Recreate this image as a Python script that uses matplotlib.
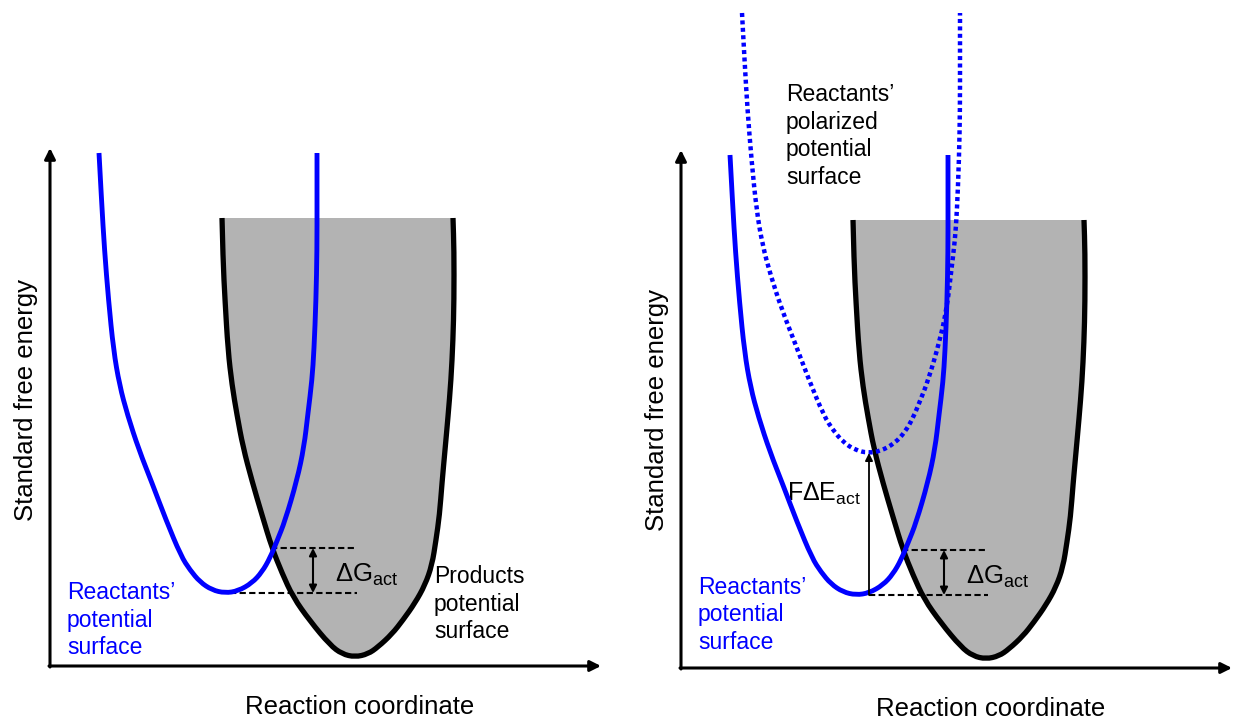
import matplotlib.pyplot as plt
from matplotlib.path import Path
from matplotlib.patches import PathPatch

plt.rcParams['font.family'] = ['Liberation Sans', 'DejaVu Sans']
plt.rcParams['mathtext.fontset'] = 'custom'
plt.rcParams['mathtext.rm'] = 'Liberation Sans'
plt.rcParams['mathtext.default'] = 'regular'

# reactants' potential surface: reaction coordinate / free energy
react_x = [0.49, 0.515, 0.545, 0.585, 0.635, 0.695, 0.775, 0.89, 1.02, 1.16, 1.31, 1.40,
           1.50, 1.62, 1.75, 1.88, 2.02, 2.12, 2.20, 2.27, 2.35, 2.47, 2.54, 2.58, 2.62,
           2.64, 2.66, 2.67, 2.67, 2.67]
react_g = [5.13, 4.66, 4.16, 3.66, 3.16, 2.81, 2.51, 2.16, 1.83, 1.46, 1.10, 0.96,
           0.84, 0.76, 0.73, 0.75, 0.83, 0.94, 1.08, 1.25, 1.45, 1.86, 2.19, 2.53, 2.86,
           3.16, 3.66, 4.16, 4.66, 5.13]

# products' potential surface
prod_x = [1.72, 1.73, 1.75, 1.78, 1.82, 1.87, 1.93, 2.02, 2.12, 2.22, 2.32, 2.43, 2.60,
          2.80, 2.92, 3.05, 3.18, 3.28, 3.42, 3.53, 3.65, 3.75, 3.82, 3.86, 3.895, 3.92,
          3.95, 3.98, 4.01, 4.03, 4.04, 4.04, 4.03]
prod_g = [4.48, 4.06, 3.66, 3.16, 2.81, 2.51, 2.19, 1.85, 1.51, 1.18, 0.93, 0.69, 0.45,
          0.21, 0.12, 0.09, 0.12, 0.19, 0.32, 0.46, 0.63, 0.81, 1.01, 1.26, 1.51, 1.83,
          2.16, 2.49, 2.86, 3.26, 3.66, 4.16, 4.48]

g_react_min = 0.73      # bottom of the reactants' well
g_cross = 1.18          # crossing of the two surfaces
x_cross = 2.21
x_react_min = 1.80
dash_end = 3.07
dg_arrow_x = 2.63

# polarized reactants' surface = reactants' surface moved up by F*dE_act
polar_dx = 0.12
f_de_act = 1.42

BLUE = '#0000ff'
GREY = '#b3b3b3'


def smooth_path(xs, ys, closed=False):
    # quadratic bezier through the midpoints of the read points
    pts = list(zip(xs, ys))
    verts = [pts[0]]
    codes = [Path.MOVETO]
    for i in range(1, len(pts) - 1):
        mid = ((pts[i][0] + pts[i + 1][0]) / 2, (pts[i][1] + pts[i + 1][1]) / 2)
        verts += [pts[i], mid]
        codes += [Path.CURVE3, Path.CURVE3]
    verts.append(pts[-1])
    codes.append(Path.LINETO)
    if closed:
        verts.append(pts[0])
        codes.append(Path.CLOSEPOLY)
    return Path(verts, codes)


def lines_text(ax, x, y, lines, step=0.275, **kw):
    for i, s in enumerate(lines):
        ax.text(x, y - i * step, s, ha='left', va='baseline', fontsize=16.5, **kw)


def draw_panel(ax, xlim, ylim, react_lab_y, ylab_y, polarized=False):
    ax.set_xlim(xlim)
    ax.set_ylim(ylim)
    ax.axis('off')

    # axes with arrow heads
    ax.annotate('', xy=(0, 5.18), xytext=(0, -0.01),
                arrowprops=dict(arrowstyle='-|>', lw=2.2, color='black',
                                mutation_scale=16, shrinkA=0, shrinkB=0))
    ax.annotate('', xy=(5.51, 0), xytext=(-0.01, 0),
                arrowprops=dict(arrowstyle='-|>', lw=2.2, color='black',
                                mutation_scale=16, shrinkA=0, shrinkB=0))

    ax.add_patch(PathPatch(smooth_path(prod_x, prod_g, closed=True),
                           facecolor=GREY, edgecolor='none', zorder=1))
    ax.add_patch(PathPatch(smooth_path(prod_x, prod_g), facecolor='none',
                           edgecolor='black', lw=3.8, capstyle='butt', zorder=2))
    ax.add_patch(PathPatch(smooth_path(react_x, react_g), facecolor='none',
                           edgecolor=BLUE, lw=3.5, capstyle='butt', zorder=4))

    x0 = x_react_min
    if polarized:
        px = [v + polar_dx for v in react_x]
        pg = [v + f_de_act for v in react_g]
        ax.add_patch(PathPatch(smooth_path(px, pg), facecolor='none', edgecolor=BLUE,
                               lw=3.2, ls=(0, (0.9, 0.77)), capstyle='butt', zorder=4))
        x0 = x_react_min + polar_dx - 0.04
        ax.annotate('', xy=(x0, g_react_min + f_de_act), xytext=(x0, g_react_min),
                    arrowprops=dict(arrowstyle='-|>', lw=1.3, color='black',
                                    mutation_scale=11, shrinkA=0, shrinkB=0),
                    zorder=5)
        ax.text(1.06, 1.67, 'FΔE$_{act}$', fontsize=18, ha='left', va='baseline')
        lines_text(ax, 1.05, 5.67, ['Reactants’', 'polarized', 'potential', 'surface'])

    # activation energy markers
    ax.plot([x0, dash_end], [g_react_min, g_react_min], color='black', lw=1.5,
            ls=(0, (3, 1.6)), zorder=3)
    ax.plot([x_cross, dash_end], [g_cross, g_cross], color='black', lw=1.5,
            ls=(0, (3, 1.6)), zorder=3)
    ax.annotate('', xy=(dg_arrow_x, g_cross), xytext=(dg_arrow_x, g_react_min),
                arrowprops=dict(arrowstyle='<|-|>', lw=1.5, color='black',
                                mutation_scale=11, shrinkA=0, shrinkB=0),
                zorder=5)
    ax.text(2.85, g_react_min + 0.11, 'ΔG$_{act}$', fontsize=18.5,
            ha='left', va='baseline')

    lines_text(ax, 0.17, react_lab_y, ['Reactants’', 'potential', 'surface'], color=BLUE)
    if not polarized:
        lines_text(ax, 3.84, 0.83, ['Products', 'potential', 'surface'])

    ax.text(-0.17, ylab_y, 'Standard free energy', fontsize=18.5, rotation=90,
            rotation_mode='anchor', ha='center', va='baseline')
    ax.text(3.10, -0.48, 'Reaction coordinate', fontsize=18.5,
            ha='center', va='baseline')


fig = plt.figure(figsize=(12.35, 7.22), dpi=100)

ax1 = fig.add_axes([0, 0, 617 / 1235, 1])
draw_panel(ax1, (-0.50, 5.67), (-0.56, 6.66), 0.67, 2.66)

ax2 = fig.add_axes([617 / 1235, 0, 618 / 1235, 1])
draw_panel(ax2, (-0.64, 5.54), (-0.54, 6.68), 0.74, 2.58, polarized=True)

fig.savefig('out.png', dpi=100)
